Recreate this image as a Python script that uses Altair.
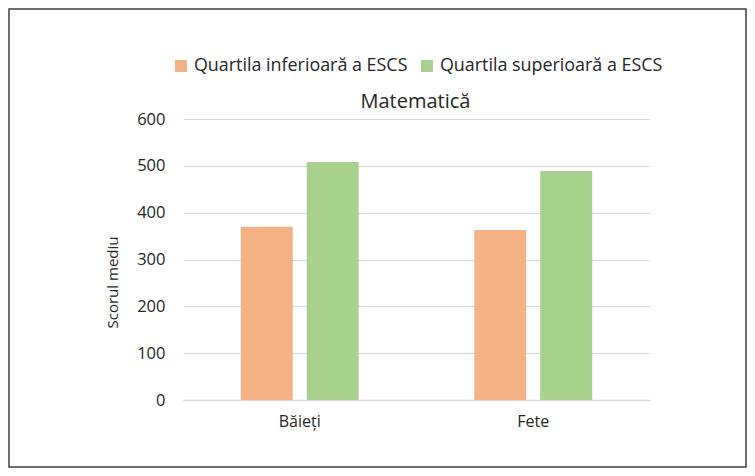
import altair as alt
import pandas as pd

categories = ["Băieți", "Fete"]
series = ["Quartila inferioară a ESCS", "Quartila superioară a ESCS"]
lower_values = [370, 363]
upper_values = [508, 489]
colors = ["#F4B183", "#A9D18E"]
y_ticks = [0, 100, 200, 300, 400, 500, 600]
title_text = "Matematică"

rows = []
for i, c in enumerate(categories):
    rows.append({"Gen": c, "Serie": series[0], "Scor": lower_values[i]})
    rows.append({"Gen": c, "Serie": series[1], "Scor": upper_values[i]})
df = pd.DataFrame(rows)

W, H = 467, 281
PL, PT, PR, PB = 175, 111, 97, 68
FONT = "Open Sans"
TXT = "#262626"

bars = alt.Chart(df).mark_bar().encode(
    x=alt.X("Gen:N", sort=categories, title=None,
            scale=alt.Scale(paddingInner=0.495, paddingOuter=0.2475),
            axis=alt.Axis(labelAngle=0, ticks=False, domainColor="#D9D9D9", domainWidth=1.5,
                          labelFontSize=16, labelPadding=13, labelColor=TXT, labelFont=FONT)),
    xOffset=alt.XOffset("Serie:N", sort=series, scale=alt.Scale(paddingInner=0.212, paddingOuter=0)),
    y=alt.Y("Scor:Q", title="Scorul mediu",
            scale=alt.Scale(domain=[0, 600], nice=False),
            axis=alt.Axis(values=y_ticks, ticks=False, domain=False, gridColor="#D9D9D9",
                          labelFontSize=16.5, labelPadding=18, labelColor=TXT, labelFont=FONT,
                          titleFontSize=15, titleFontWeight="normal", titleColor=TXT, titleFont=FONT,
                          titleX=-71, titleY=163, titleBaseline="middle", titleAngle=270)),
    color=alt.Color("Serie:N", sort=series, scale=alt.Scale(domain=series, range=colors),
                    legend=alt.Legend(title=None, orient="none", legendX=-11, legendY=-62,
                                      direction="horizontal", columns=2, symbolType="square",
                                      symbolSize=144, symbolStrokeWidth=0, symbolOpacity=1,
                                      labelFontSize=17.9, labelColor=TXT, labelFont=FONT,
                                      labelOffset=4, columnPadding=10, labelLimit=400)),
)

title = alt.Chart(pd.DataFrame({"t": [title_text]})).mark_text(
    fontSize=20, font=FONT, color=TXT, align="center", baseline="alphabetic"
).encode(x=alt.value(W / 2 - 1), y=alt.value(-11), text="t:N")

border = alt.Chart(pd.DataFrame({"a": [0]})).mark_rect(
    filled=False, stroke="#404040", strokeWidth=1.5
).encode(
    x=alt.value(-PL + 1), x2=alt.value(W + PR - 1),
    y=alt.value(-PT + 1), y2=alt.value(H + PB - 1),
)

chart = alt.layer(bars, title, border).properties(
    width=W, height=H,
    background="white",
    autosize=alt.AutoSizeParams(type="none"),
    padding={"left": PL, "top": PT, "right": PR, "bottom": PB},
).configure_view(stroke=None)

chart.save("out.html", embed_options={"renderer": "svg", "actions": False})
